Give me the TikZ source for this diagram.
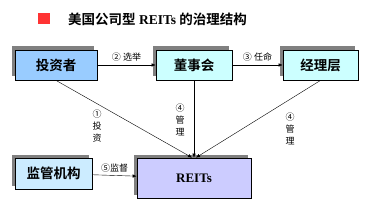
\documentclass[tikz,border=0pt]{standalone}
\usepackage{fontspec}
\setmainfont{Liberation Serif}
\newfontfamily\cjk{Noto Sans CJK SC}[BoldFont={* Bold}]
\usetikzlibrary{arrows.meta,shadows}
\definecolor{invBlue}{HTML}{99CCFF}
\definecolor{boardCyan}{HTML}{CCFFFF}
\definecolor{regCyan}{HTML}{CCECFF}
\definecolor{reitLav}{HTML}{CCCCFF}
\definecolor{titleRed}{HTML}{FF3333}
\begin{document}
\begin{tikzpicture}[x=1pt,y=-1pt,
    govBoxP/.style={draw=black,thick,minimum height=30pt,inner sep=0pt,
        font=\cjk\bfseries\fontsize{13.5}{14}\selectfont,
        drop shadow={shadow xshift=-3.5pt,shadow yshift=3.5pt,fill=gray,opacity=1}},
    govArrP/.style={-{Latex[length=4pt,width=3.5pt]},thin},
    govLblP/.style={font=\cjk\fontsize{9}{12}\selectfont,inner sep=1pt},
]
\useasboundingbox (0,0) rectangle (366,203);
% Title
\fill[titleRed] (38,13) rectangle (50,24);
\node[anchor=west,inner sep=0pt,font=\bfseries\fontsize{13.5}{15}\selectfont] (title) at (68,19)
    {{\cjk 美国公司型} REITs {\cjk 的治理结构}};
% Boxes
\node[govBoxP,fill=invBlue,minimum width=82pt] (inv) at (56,65) {投资者};
\node[govBoxP,fill=boardCyan,minimum width=76pt] (board) at (194,65) {董事会};
\node[govBoxP,fill=boardCyan,minimum width=75pt] (mgr) at (320.5,65) {经理层};
\node[govBoxP,fill=regCyan,minimum width=77pt,minimum height=31pt] (reg) at (53.5,173.5) {监管机构};
\node[govBoxP,fill=reitLav,minimum width=114pt,minimum height=40pt,
    font=\bfseries\fontsize{13}{14}\selectfont] (reits) at (194,178) {REITs};
% Arrows
\draw[govArrP] (inv) -- (board) node[midway,above=3pt,govLblP] {② 选举};
\draw[govArrP] (board) -- (mgr) node[midway,above=3pt,govLblP] {③ 任命};
\draw[govArrP] (inv.south) -- ([xshift=-2pt]reits.north);
\draw[govArrP] (board.south) -- (reits.north);
\draw[govArrP] (mgr.south) -- ([xshift=2pt]reits.north);
\draw[govArrP] (reg) -- (reits) node[midway,above=2pt,govLblP] {⑤监督};
% Vertical labels
\node[govLblP,align=center] (lblInv) at (97,126) {①\\投\\资};
\node[govLblP,align=center] (lblBoard) at (180,120) {④\\管\\理};
\node[govLblP,align=center] (lblMgr) at (290,129) {④\\管\\理};
\end{tikzpicture}
\end{document}
